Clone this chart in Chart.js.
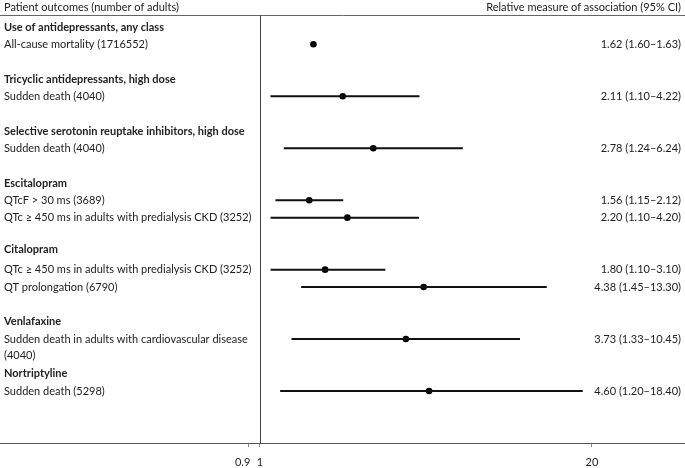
<!DOCTYPE html>
<html>
<head>
<meta charset="utf-8">
<script src="https://cdn.jsdelivr.net/npm/chart.js@4/dist/chart.umd.min.js"></script>
<style>
  html, body { margin: 0; padding: 0; background: #fff; }
  #wrap { width: 685px; height: 468px; }
</style>
</head>
<body>
<div id="wrap"><canvas id="forest"></canvas></div>
<script>
// group headings and the row (line number) they sit on
const groups = [
  'Use of antidepressants, any class',
  'Tricyclic antidepressants, high dose',
  'Selective serotonin reuptake inhibitors, high dose',
  'Escitalopram',
  'Citalopram',
  'Venlafaxine',
  'Nortriptyline'
];
const groupRows = [0, 3, 6, 9, 12.85, 17, 20];

// outcomes
const outcomes = [
  ['All-cause mortality (1716552)'],
  ['Sudden death (4040)'],
  ['Sudden death (4040)'],
  ['QTcF > 30 ms (3689)'],
  ['QTc \u2265 450 ms in adults with predialysis CKD (3252)'],
  ['QTc \u2265 450 ms in adults with predialysis CKD (3252)'],
  ['QT prolongation (6790)'],
  ['Sudden death in adults with cardiovascular disease', '(4040)'],
  ['Sudden death (5298)']
];
const outcomeRows = [1, 4, 7, 10, 11, 14, 15, 18, 21];
const estimates = [1.62, 2.11, 2.78, 1.56, 2.20, 1.80, 4.38, 3.73, 4.60];
const lower = [1.60, 1.10, 1.24, 1.15, 1.10, 1.10, 1.45, 1.33, 1.20];
const upper = [1.63, 4.22, 6.24, 2.12, 4.20, 3.10, 13.30, 10.45, 18.40];

const xTicks = [0.9, 1, 20];

const FONT = 'Lato, "Noto Sans", sans-serif';

// confidence intervals, separated by gaps
const ciPoints = [];
estimates.forEach((e, i) => {
  ciPoints.push({ x: lower[i], y: outcomeRows[i] });
  ciPoints.push({ x: upper[i], y: outcomeRows[i] });
  ciPoints.push({ x: null, y: null });
});
const estPoints = estimates.map((e, i) => ({ x: e, y: outcomeRows[i] }));

const ciLabels = estimates.map((e, i) =>
  e.toFixed(2) + ' (' + lower[i].toFixed(2) + '\u2013' + upper[i].toFixed(2) + ')');

const textPlugin = {
  id: 'forestText',
  afterDraw(chart) {
    const ctx = chart.ctx;
    const xs = chart.scales.x;
    const ys = chart.scales.y;
    const area = chart.chartArea;
    ctx.save();

    // header line
    ctx.strokeStyle = '#666';
    ctx.lineWidth = 1;
    ctx.beginPath();
    ctx.moveTo(0, area.top + 0.5);
    ctx.lineTo(chart.width, area.top + 0.5);
    ctx.stroke();

    // null line at 1
    const x1 = Math.round(xs.getPixelForValue(1)) + 0.5;
    ctx.strokeStyle = '#444';
    ctx.beginPath();
    ctx.moveTo(x1, area.top);
    ctx.lineTo(x1, area.bottom);
    ctx.stroke();

    ctx.fillStyle = '#222';
    ctx.textBaseline = 'middle';
    ctx.font = '11px ' + FONT;
    ctx.textAlign = 'left';
    ctx.fillText('Patient outcomes (number of adults)', 4, area.top - 8);
    ctx.textAlign = 'right';
    ctx.fillText('Relative measure of association (95% CI)', chart.width - 4, area.top - 8);

    ctx.textAlign = 'left';
    ctx.font = 'bold 11px ' + FONT;
    groups.forEach((g, i) => ctx.fillText(g, 4, ys.getPixelForValue(groupRows[i])));

    ctx.font = '11px ' + FONT;
    outcomes.forEach((lines, i) => {
      lines.forEach((t, k) => ctx.fillText(t, 4, ys.getPixelForValue(outcomeRows[i] + k * 0.95)));
    });

    ctx.textAlign = 'right';
    ciLabels.forEach((t, i) => ctx.fillText(t, chart.width - 4, ys.getPixelForValue(outcomeRows[i])));

    // x tick labels (0.9 sits just left of 1)
    ctx.font = '11px ' + FONT;
    const ty = area.bottom + 19;
    xTicks.forEach((v) => {
      const px = xs.getPixelForValue(v);
      if (v < 1) {
        ctx.textAlign = 'right';
        ctx.fillText(String(v), px + 2, ty);
      } else {
        ctx.textAlign = 'center';
        ctx.fillText(String(v), px, ty);
      }
    });
    ctx.restore();
  }
};

new Chart(document.getElementById('forest'), {
  type: 'scatter',
  data: {
    datasets: [
      {
        data: ciPoints,
        showLine: true,
        spanGaps: false,
        borderColor: '#111',
        borderWidth: 2,
        pointRadius: 0
      },
      {
        data: estPoints,
        pointRadius: 3.3,
        pointBackgroundColor: '#000',
        pointBorderColor: '#000',
        borderWidth: 0
      }
    ]
  },
  options: {
    responsive: true,
    maintainAspectRatio: false,
    animation: false,
    layout: { autoPadding: false, padding: { top: 15, left: 0, right: 0, bottom: 0 } },
    plugins: { legend: { display: false }, tooltip: { enabled: false } },
    scales: {
      x: {
        type: 'logarithmic',
        min: 0.0958,
        max: 46.3,
        afterBuildTicks: (scale) => { scale.ticks = xTicks.map(v => ({ value: v })); },
        afterFit: (scale) => { scale.height = 25; },
        border: { color: '#555', width: 1 },
        grid: { drawOnChartArea: false, tickLength: 4, color: '#888' },
        ticks: {
          display: false,
          autoSkip: false,
          maxRotation: 0
        }
      },
      y: {
        type: 'linear',
        display: false,
        reverse: true,
        min: -0.69,
        max: 24.0
      }
    }
  },
  plugins: [textPlugin]
});
</script>
</body>
</html>
